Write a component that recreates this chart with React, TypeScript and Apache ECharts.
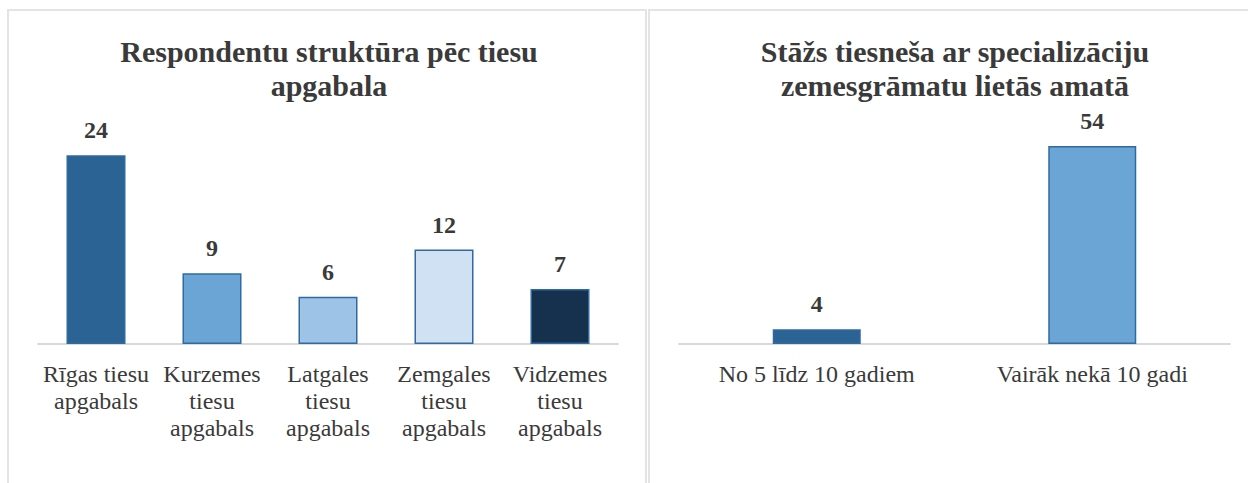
import React, { useEffect, useRef } from "react";
import * as echarts from "echarts";

const leftTitle = "Respondentu struktūra pēc tiesu\napgabala";
const leftCategories = [
  "Rīgas tiesu\napgabals",
  "Kurzemes\ntiesu\napgabals",
  "Latgales\ntiesu\napgabals",
  "Zemgales\ntiesu\napgabals",
  "Vidzemes\ntiesu\napgabals",
];
const leftValues = [24, 9, 6, 12, 7];
const leftColors = ["#2b6395", "#6aa5d6", "#9dc3e6", "#cfe1f2", "#15314e"];

const rightTitle = "Stāžs tiesneša ar specializāciju\nzemesgrāmatu lietās amatā";
const rightCategories = ["No 5 līdz 10 gadiem", "Vairāk nekā 10 gadi"];
const rightValues = [4, 54];
const rightColors = ["#2b6395", "#6aa5d6"];

const FONT = "'Liberation Serif', 'Times New Roman', serif";
const TEXT = "#3a3a3a";

export default function App() {
  const ref = useRef<HTMLDivElement>(null);
  useEffect(() => {
    document.body.style.margin = "0";
    const chart = echarts.init(ref.current!, undefined, { renderer: "svg" });
    const barLabel = {
      show: true,
      position: "top",
      distance: 13,
      fontFamily: FONT,
      fontSize: 24,
      fontWeight: "bold",
      color: TEXT,
    };
    const xAxisBase = {
      type: "category",
      axisTick: { show: false },
      axisLine: { lineStyle: { color: "#d9d9d9", width: 2 } },
      axisLabel: {
        fontFamily: FONT,
        fontSize: 24,
        lineHeight: 27,
        color: TEXT,
        margin: 16,
        interval: 0,
      },
    };
    chart.setOption({
      animation: false,
      backgroundColor: "#ffffff",
      graphic: [
        {
          type: "rect",
          shape: { x: 8, y: 10, width: 638, height: 520 },
          style: { fill: "none", stroke: "#e4e4e4", lineWidth: 2 },
          silent: true,
        },
        {
          type: "rect",
          shape: { x: 649, y: 10, width: 640, height: 520 },
          style: { fill: "none", stroke: "#e4e4e4", lineWidth: 2 },
          silent: true,
        },
      ],
      title: [
        {
          text: leftTitle,
          left: 329,
          top: 34,
          textAlign: "center",
          padding: 0,
          textStyle: {
            fontFamily: FONT,
            fontSize: 30,
            fontWeight: "bold",
            color: TEXT,
            lineHeight: 34,
          },
        },
        {
          text: rightTitle,
          left: 955,
          top: 34,
          textAlign: "center",
          padding: 0,
          textStyle: {
            fontFamily: FONT,
            fontSize: 30,
            fontWeight: "bold",
            color: TEXT,
            lineHeight: 34,
          },
        },
      ],
      grid: [
        { left: 38, width: 580, top: 108, height: 236 },
        { left: 679, width: 551, top: 124, height: 220 },
      ],
      xAxis: [
        { ...xAxisBase, gridIndex: 0, data: leftCategories },
        { ...xAxisBase, gridIndex: 1, data: rightCategories },
      ],
      yAxis: [
        { type: "value", gridIndex: 0, min: 0, max: 30, show: false },
        { type: "value", gridIndex: 1, min: 0, max: 60, show: false },
      ],
      series: [
        {
          type: "bar",
          xAxisIndex: 0,
          yAxisIndex: 0,
          barWidth: 59,
          label: barLabel,
          data: leftValues.map((v, i) => ({
            value: v,
            itemStyle: {
              color: leftColors[i],
              borderColor: "#2f6aa1",
              borderWidth: 1.5,
            },
          })),
        },
        {
          type: "bar",
          xAxisIndex: 1,
          yAxisIndex: 1,
          barWidth: 88,
          label: barLabel,
          data: rightValues.map((v, i) => ({
            value: v,
            itemStyle: {
              color: rightColors[i],
              borderColor: "#2f6aa1",
              borderWidth: 1.5,
            },
          })),
        },
      ],
    });
    return () => chart.dispose();
  }, []);
  return <div ref={ref} style={{ width: 1248, height: 483 }} />;
}
